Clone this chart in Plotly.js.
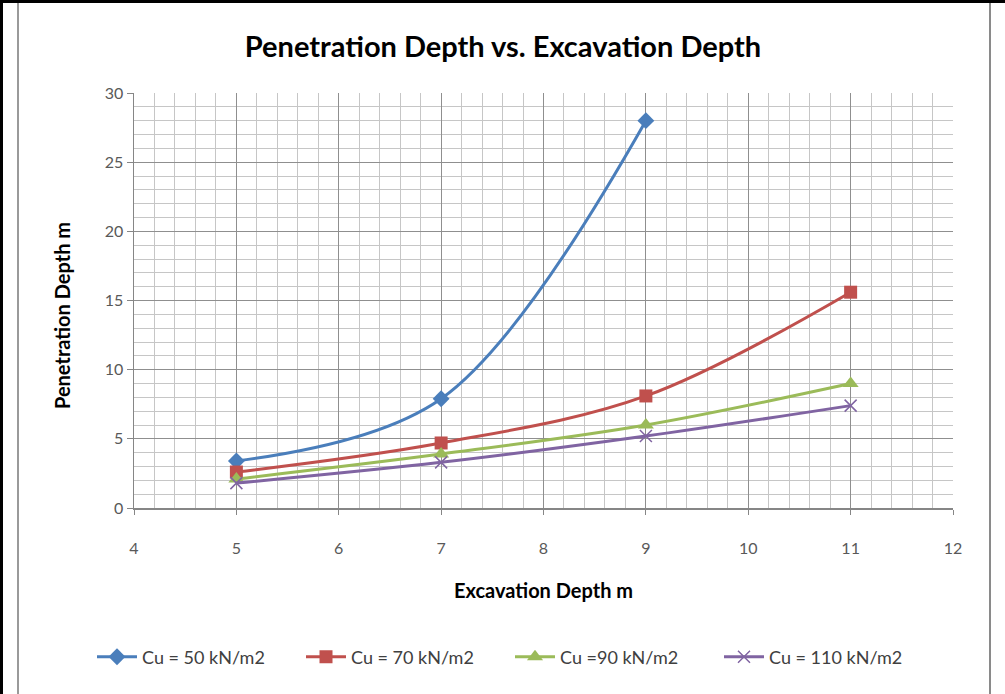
<!DOCTYPE html>
<html>
<head>
<meta charset="utf-8">
<script src="https://cdn.plot.ly/plotly-3.0.1.min.js"></script>
<style>
  html, body { margin:0; padding:0; background:#fff; }
  #wrap { position:relative; width:1005px; height:694px; overflow:hidden; }
  #chart { position:absolute; left:0; top:0; width:1005px; height:694px; }
  .ln { position:absolute; pointer-events:none; }
</style>
</head>
<body>
<div id="wrap">
  <div id="chart"></div>
  <div class="ln" style="left:0;top:0;width:1005px;height:3px;background:#000;"></div>
  <div class="ln" style="left:0;top:0;width:3px;height:694px;background:#000;"></div>
  <div class="ln" style="left:17px;top:3px;width:2px;height:691px;background:#9a9a9a;"></div>
  <div class="ln" style="left:989px;top:3px;width:2px;height:691px;background:#8a8a8a;"></div>
</div>
<script>
// Data
const excavationDepth = [5, 7, 9, 11];
const cu50  = [3.4, 7.9, 28.0];
const cu70  = [2.6, 4.7, 8.1, 15.6];
const cu90  = [2.1, 3.9, 6.0, 9.0];
const cu110 = [1.8, 3.3, 5.2, 7.4];
const seriesNames = ["Cu = 50 kN/m2", "Cu = 70 kN/m2", "Cu =90 kN/m2", "Cu = 110 kN/m2"];
const xTicks = [4, 5, 6, 7, 8, 9, 10, 11, 12];
const yTicks = [0, 5, 10, 15, 20, 25, 30];

const FONT = "Lato, 'Open Sans', Arial, sans-serif";

function tr(y, name, color, marker) {
  return {
    x: excavationDepth.slice(0, y.length),
    y: y,
    name: name,
    type: 'scatter',
    mode: 'lines+markers',
    line: { color: color, width: 3, shape: 'spline', smoothing: 1 },
    marker: Object.assign({ color: color }, marker)
  };
}

const data = [
  tr(cu50,  seriesNames[0], '#4A7EBB', { symbol: 'diamond', size: 13 }),
  tr(cu70,  seriesNames[1], '#C0504D', { symbol: 'square', size: 13 }),
  tr(cu90,  seriesNames[2], '#9BBB59', { symbol: 'triangle-up', size: 14 }),
  tr(cu110, seriesNames[3], '#8064A2', { symbol: 'x-thin-open', size: 12, line: { color: '#8064A2', width: 1.5 } })
];

const layout = {
  width: 1005, height: 694,
  margin: { l: 134, r: 52, t: 93, b: 186 },
  paper_bgcolor: 'rgba(0,0,0,0)',
  plot_bgcolor: '#fff',
  showlegend: true,
  font: { family: FONT, color: '#404040' },
  title: {
    text: 'Penetration Depth vs. Excavation Depth',
    font: { family: FONT, size: 29, color: '#000', weight: 'bold' },
    x: 503 / 1005, xanchor: 'center', xref: 'container',
    y: 1 - 47 / 694, yanchor: 'middle', yref: 'container'
  },
  xaxis: {
    range: [4, 12],
    tickvals: xTicks,
    ticktext: xTicks.map(String),
    showgrid: true, gridcolor: '#8f8f8f', gridwidth: 1,
    minor: { dtick: 0.2, showgrid: true, gridcolor: '#c6c6c6', gridwidth: 1, ticks: '' },
    showline: true, linecolor: '#868686', linewidth: 1.5,
    ticks: 'outside', ticklen: 5, tickcolor: '#868686',
    ticklabelstandoff: 20,
    tickfont: { family: FONT, size: 16, color: '#595959' },
    zeroline: false,
    title: { text: 'Excavation Depth m', font: { family: FONT, size: 20, color: '#000', weight: 'bold' }, standoff: 28 },
    fixedrange: true
  },
  yaxis: {
    range: [0, 30],
    tickvals: yTicks,
    ticktext: yTicks.map(String),
    showgrid: true, gridcolor: '#8f8f8f', gridwidth: 1,
    minor: { dtick: 1, showgrid: true, gridcolor: '#c6c6c6', gridwidth: 1, ticks: '' },
    showline: true, linecolor: '#868686', linewidth: 1.5,
    ticks: 'outside', ticklen: 6, tickcolor: '#868686',
    tickfont: { family: FONT, size: 16, color: '#595959' },
    zeroline: false,
    title: { text: '' },
    fixedrange: true
  },
  annotations: [{
    text: 'Penetration Depth m',
    xref: 'paper', yref: 'paper',
    x: (62 - 134) / 819, y: (508 - 316) / 415,
    xanchor: 'center', yanchor: 'middle',
    textangle: -90, showarrow: false,
    font: { family: FONT, size: 20, color: '#000', weight: 'bold' }
  }],
  legend: {
    orientation: 'h',
    x: (92 - 134) / 819, xanchor: 'left',
    y: (508 - 657) / 415, yanchor: 'middle',
    font: { family: FONT, size: 18, color: '#404040' },
    entrywidth: 154, entrywidthmode: 'pixels',
    itemwidth: 40,
    bgcolor: 'rgba(0,0,0,0)'
  }
};

Plotly.newPlot('chart', data, layout, { displayModeBar: false, staticPlot: true });
</script>
</body>
</html>
